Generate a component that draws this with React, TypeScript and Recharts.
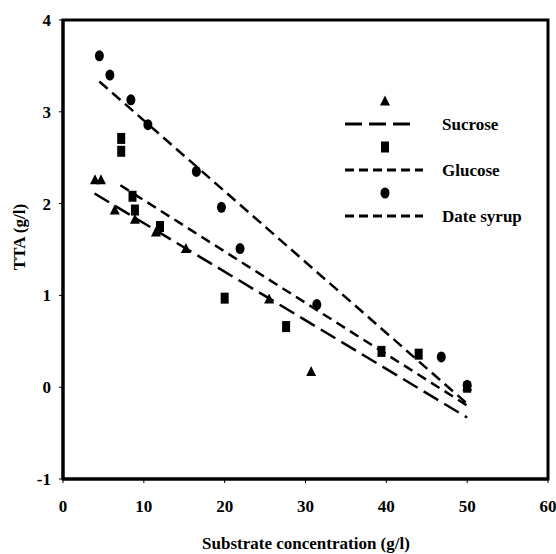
import React from 'react';
import {
  ScatterChart,
  Scatter,
  XAxis,
  YAxis,
  ReferenceArea,
  Label,
} from 'recharts';

// measured points (substrate g/l vs TTA g/l)
const sucroseX = [3.96, 4.7, 6.4, 8.9, 11.5, 15.2, 25.5, 30.7, 50];
const sucroseY = [2.26, 2.26, 1.93, 1.83, 1.69, 1.51, 0.96, 0.17, 0.01];
const glucoseX = [7.2, 7.2, 8.6, 8.9, 12.0, 20.0, 27.6, 39.4, 44.0, 50];
const glucoseY = [2.71, 2.57, 2.08, 1.93, 1.75, 0.97, 0.66, 0.39, 0.36, 0.0];
const dateX = [4.5, 5.8, 8.4, 10.5, 16.5, 19.6, 21.9, 31.4, 46.8, 50];
const dateY = [3.61, 3.4, 3.13, 2.86, 2.35, 1.96, 1.51, 0.9, 0.33, 0.02];

// fitted trend lines (end points)
const sucroseFitX = [3.9, 50];
const sucroseFitY = [2.11, -0.33];
const glucoseFitX = [7.1, 50];
const glucoseFitY = [2.2, -0.2];
const dateFitX = [4.5, 50];
const dateFitY = [3.33, -0.18];

const xTicks = [0, 10, 20, 30, 40, 50, 60];
const yTicks = [-1, 0, 1, 2, 3, 4];

const FONT = '"Liberation Serif", "Times New Roman", serif';

const zip = (xs: number[], ys: number[]) => xs.map((x, i) => ({ x, y: ys[i] }));

const sucrose = zip(sucroseX, sucroseY);
const glucose = zip(glucoseX, glucoseY);
const dateSyrup = zip(dateX, dateY);
const sucroseFit = zip(sucroseFitX, sucroseFitY);
const glucoseFit = zip(glucoseFitX, glucoseFitY);
const dateFit = zip(dateFitX, dateFitY);

const Triangle = (props: any) => {
  const { cx, cy } = props;
  return <polygon points={`${cx},${cy - 5.5} ${cx - 5},${cy + 4.5} ${cx + 5},${cy + 4.5}`} fill="#000" />;
};
const Square = (props: any) => {
  const { cx, cy } = props;
  return <rect x={cx - 4} y={cy - 5.5} width={8} height={11} fill="#000" />;
};
const Dot = (props: any) => {
  const { cx, cy } = props;
  return <ellipse cx={cx} cy={cy} rx={4.5} ry={5.5} fill="#000" />;
};
const NoShape = () => <g />;

const XTick = (props: any) => {
  const { x, payload } = props;
  // baseline sits about 33px under the bottom axis line
  return (
    <text x={x} y={512} textAnchor="middle" fontFamily={FONT} fontWeight="bold" fontSize={17} fill="#000">
      {payload.value}
    </text>
  );
};

const LEGEND = [
  { name: 'Sucrose', marker: 'tri', dash: '17 7', len: 72 },
  { name: 'Glucose', marker: 'sq', dash: '9 5', len: 78 },
  { name: 'Date syrup', marker: 'dot', dash: '9 5', len: 78 },
];

const LegendBox = () => (
  <svg width={190} height={140} style={{ position: 'absolute', left: 345, top: 94 }}>
    {LEGEND.map((l, i) => {
      const top = i * 46;
      return (
        <g key={l.name}>
          {l.marker === 'tri' && <Triangle cx={40} cy={top + 7} />}
          {l.marker === 'sq' && <Square cx={40} cy={top + 7} />}
          {l.marker === 'dot' && <Dot cx={40} cy={top + 7} />}
          <line x1={0} x2={l.len} y1={top + 30} y2={top + 30} stroke="#000" strokeWidth={3} strokeDasharray={l.dash} />
          <text x={97} y={top + 36} fontFamily={FONT} fontWeight="bold" fontSize={17} fill="#000">
            {l.name}
          </text>
        </g>
      );
    })}
  </svg>
);

const tickStyle = { fontFamily: FONT, fontWeight: 'bold' as const, fontSize: 17, fill: '#000' };

const App: React.FC = () => {
  return (
    <div style={{ position: 'absolute', left: 0, top: 0, width: 556, height: 554, background: '#fff' }}>
      <ScatterChart width={556} height={554} margin={{ top: 20, right: 8, left: 13, bottom: 45 }}>
        <XAxis
          type="number"
          dataKey="x"
          domain={[0, 60]}
          ticks={xTicks}
          interval={0}
          axisLine={{ stroke: '#000', strokeWidth: 3 }}
          tickLine={{ stroke: '#000', strokeWidth: 1 }}
          tickSize={4}
          tick={<XTick />}
          height={30}
        >
          <Label
            content={() => (
              <text x={306} y={549} textAnchor="middle" fontFamily={FONT} fontWeight="bold" fontSize={17} fill="#000">
                Substrate concentration (g/l)
              </text>
            )}
          />
        </XAxis>
        <YAxis
          type="number"
          dataKey="y"
          domain={[-1, 4]}
          ticks={yTicks}
          interval={0}
          axisLine={{ stroke: '#000', strokeWidth: 3 }}
          tickLine={{ stroke: '#000', strokeWidth: 1 }}
          tickSize={4}
          tickMargin={8}
          tick={tickStyle}
          width={50}
        >
          <Label
            content={() => (
              <text
                x={25}
                y={237}
                textAnchor="middle"
                transform="rotate(-90 25 237)"
                fontFamily={FONT}
                fontWeight="bold"
                fontSize={17}
                fill="#000"
              >
                TTA (g/l)
              </text>
            )}
          />
        </YAxis>
        <ReferenceArea x1={0} x2={60} y1={-1} y2={4} fill="none" stroke="#000" strokeWidth={3} ifOverflow="visible" />
        <Scatter
          data={sucroseFit}
          shape={NoShape}
          line={{ stroke: '#000', strokeWidth: 2.5, strokeDasharray: '17 7' }}
          isAnimationActive={false}
          legendType="none"
        />
        <Scatter
          data={glucoseFit}
          shape={NoShape}
          line={{ stroke: '#000', strokeWidth: 2.5, strokeDasharray: '10 6' }}
          isAnimationActive={false}
          legendType="none"
        />
        <Scatter
          data={dateFit}
          shape={NoShape}
          line={{ stroke: '#000', strokeWidth: 2.5, strokeDasharray: '11 6' }}
          isAnimationActive={false}
          legendType="none"
        />
        <Scatter name="Sucrose" data={sucrose} shape={Triangle} isAnimationActive={false} />
        <Scatter name="Glucose" data={glucose} shape={Square} isAnimationActive={false} />
        <Scatter name="Date syrup" data={dateSyrup} shape={Dot} isAnimationActive={false} />
      </ScatterChart>
      <LegendBox />
    </div>
  );
};

export default App;
